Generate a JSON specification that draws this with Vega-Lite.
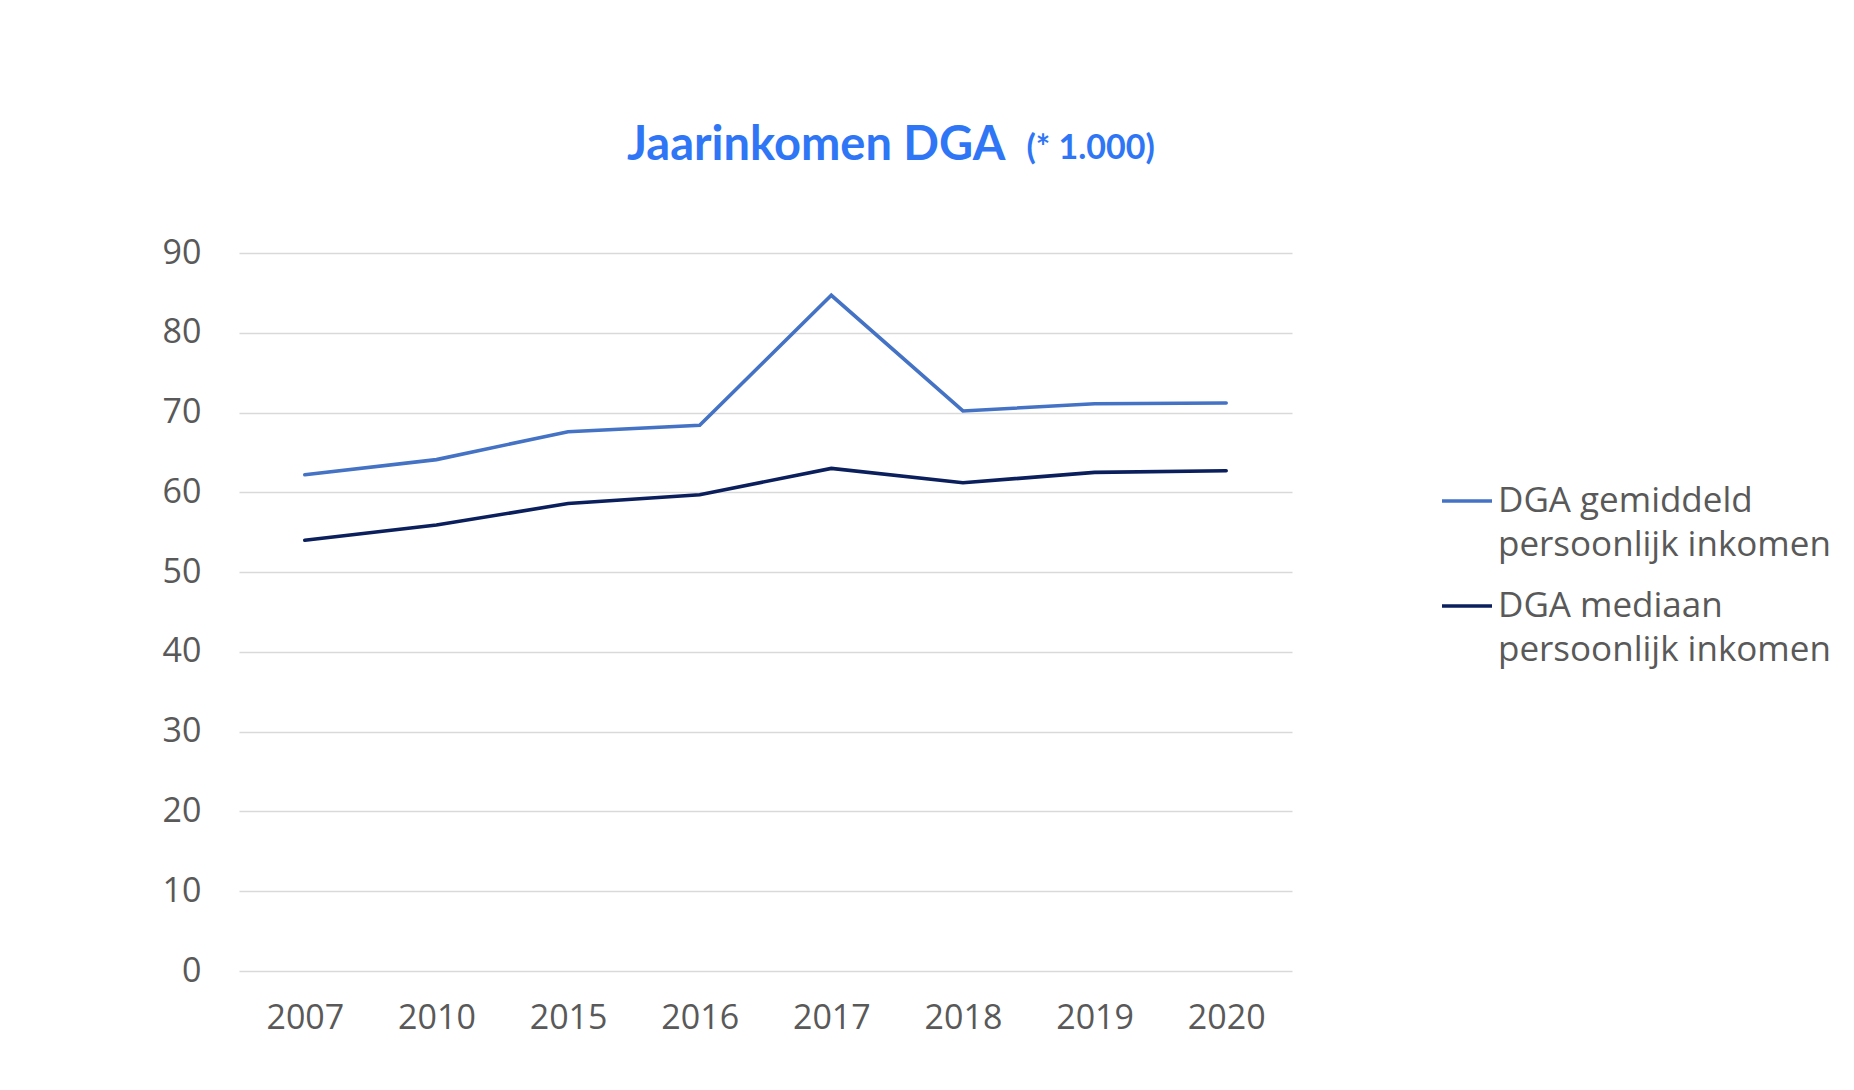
{
  "$schema": "https://vega.github.io/schema/vega-lite/v6.json",
  "autosize": {"type": "none"},
  "width": 1053,
  "height": 718,
  "padding": {"left": 239, "top": 253, "right": 562, "bottom": 119},
  "background": "white",
  "title": {
    "text": "Jaarinkomen DGA",
    "anchor": "start",
    "align": "left",
    "frame": "group",
    "dx": 388,
    "dy": 126,
    "offset": 87,
    "font": "Lato",
    "fontSize": 47,
    "fontWeight": "bold",
    "color": "#2F76F6"
  },
  "data": {
    "values": [
      {"jaar": "2007", "serie": "DGA gemiddeld persoonlijk inkomen", "waarde": 62.2},
      {"jaar": "2010", "serie": "DGA gemiddeld persoonlijk inkomen", "waarde": 64.1},
      {"jaar": "2015", "serie": "DGA gemiddeld persoonlijk inkomen", "waarde": 67.6},
      {"jaar": "2016", "serie": "DGA gemiddeld persoonlijk inkomen", "waarde": 68.4},
      {"jaar": "2017", "serie": "DGA gemiddeld persoonlijk inkomen", "waarde": 84.7},
      {"jaar": "2018", "serie": "DGA gemiddeld persoonlijk inkomen", "waarde": 70.2},
      {"jaar": "2019", "serie": "DGA gemiddeld persoonlijk inkomen", "waarde": 71.1},
      {"jaar": "2020", "serie": "DGA gemiddeld persoonlijk inkomen", "waarde": 71.2},
      {"jaar": "2007", "serie": "DGA mediaan persoonlijk inkomen", "waarde": 54.0},
      {"jaar": "2010", "serie": "DGA mediaan persoonlijk inkomen", "waarde": 55.9},
      {"jaar": "2015", "serie": "DGA mediaan persoonlijk inkomen", "waarde": 58.6},
      {"jaar": "2016", "serie": "DGA mediaan persoonlijk inkomen", "waarde": 59.7},
      {"jaar": "2017", "serie": "DGA mediaan persoonlijk inkomen", "waarde": 63.0},
      {"jaar": "2018", "serie": "DGA mediaan persoonlijk inkomen", "waarde": 61.2},
      {"jaar": "2019", "serie": "DGA mediaan persoonlijk inkomen", "waarde": 62.5},
      {"jaar": "2020", "serie": "DGA mediaan persoonlijk inkomen", "waarde": 62.7}
    ]
  },
  "mark": {"type": "line", "strokeWidth": 3.6, "strokeCap": "round", "strokeJoin": "miter"},
  "encoding": {
    "x": {
      "field": "jaar",
      "type": "ordinal",
      "scale": {"type": "point", "padding": 0.5},
      "axis": {
        "title": null,
        "labelAngle": 0,
        "domain": false,
        "ticks": false,
        "tickSize": 0,
        "grid": false,
        "labelPadding": 30,
        "labelFont": "Open Sans",
        "labelFontSize": 34,
        "labelColor": "#595959"
      }
    },
    "y": {
      "field": "waarde",
      "type": "quantitative",
      "scale": {"domain": [0, 90], "nice": false},
      "axis": {
        "title": "(* 1.000)",
        "titleAngle": 0,
        "titleX": 787,
        "titleY": -95,
        "titleAlign": "left",
        "titleBaseline": "alphabetic",
        "titleFont": "Lato",
        "titleFontSize": 34,
        "titleFontWeight": "bold",
        "titleColor": "#2F76F6",
        "values": [0, 10, 20, 30, 40, 50, 60, 70, 80, 90],
        "domain": false,
        "ticks": false,
        "tickSize": 0,
        "grid": true,
        "gridColor": "#D9D9D9",
        "gridWidth": 1.3,
        "labelPadding": 38,
        "labelFont": "Open Sans",
        "labelFontSize": 34,
        "labelColor": "#595959"
      }
    },
    "color": {
      "field": "serie",
      "type": "nominal",
      "scale": {
        "domain": ["DGA gemiddeld persoonlijk inkomen", "DGA mediaan persoonlijk inkomen"],
        "range": ["#4472C4", "#0A1F5C"]
      },
      "legend": {
        "title": null,
        "orient": "none",
        "legendX": 1201,
        "legendY": 221,
        "symbolType": "stroke",
        "symbolSize": 2500,
        "symbolStrokeWidth": 3.6,
        "labelOffset": 4,
        "labelFont": "Open Sans",
        "labelFontSize": 35,
        "labelColor": "#595959",
        "labelLimit": 600,
        "labelBaseline": "top",
        "rowPadding": 16,
        "labelExpr": "[replace(datum.label, ' persoonlijk inkomen', ''), 'persoonlijk inkomen']",
        "encode": {
          "labels": {"update": {"lineHeight": {"value": 44}, "dy": {"value": -17}}}
        }
      }
    }
  },
  "config": {"view": {"stroke": null}}
}
